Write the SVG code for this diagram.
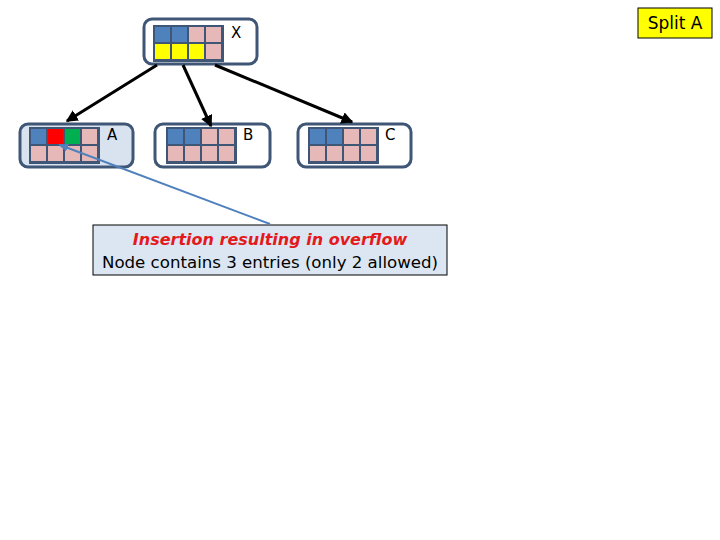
<svg xmlns="http://www.w3.org/2000/svg" width="720" height="540" viewBox="0 0 720 540">
<defs>
<marker id="ah" markerWidth="4" markerHeight="4" refX="3.5" refY="2" orient="auto" markerUnits="strokeWidth"><path d="M0,0 L4,2 L0,4 Z" fill="#000"/></marker>
<marker id="ah2" markerWidth="5" markerHeight="5" refX="4" refY="2.5" orient="auto" markerUnits="strokeWidth"><path d="M0,0.5 L5,2.5 L0,4.5 Z" fill="#4F81BD"/></marker>
</defs>
<style>
.node{fill:#fff;stroke:#3F5677;stroke-width:3}
.grid{fill:#3F5677}
.b{fill:#4F81BD}.p{fill:#E6B9B8}.y{fill:#FFFF00}.r{fill:#FF0000}.g{fill:#00B050}
.lbl{font-family:"DejaVu Sans",sans-serif;font-size:15px;fill:#000}
.edge{stroke:#000;stroke-width:3;fill:none;marker-end:url(#ah)}
</style>
<rect width="720" height="540" fill="#fff"/>
<g id="nodeX">
<rect class="node" x="144" y="19" width="113" height="45" rx="8"/>
<rect class="grid" x="153" y="25" width="71" height="37"/>
<rect class="b" x="155" y="27" width="15" height="15"/><rect class="b" x="172" y="27" width="15" height="15"/><rect class="p" x="189" y="27" width="15" height="15"/><rect class="p" x="206" y="27" width="15" height="15"/>
<rect class="y" x="155" y="44" width="15" height="15"/><rect class="y" x="172" y="44" width="15" height="15"/><rect class="y" x="189" y="44" width="15" height="15"/><rect class="p" x="206" y="44" width="15" height="15"/>
<text class="lbl" x="231" y="38">X</text>
</g>
<g id="nodeA">
<rect class="node" x="20" y="124" width="113" height="43" rx="8" style="fill:#D9E3F0"/>
<rect class="grid" x="29" y="127" width="71" height="37"/>
<rect class="b" x="31" y="129" width="15" height="15"/><rect class="r" x="48" y="129" width="15" height="15"/><rect class="g" x="65" y="129" width="15" height="15"/><rect class="p" x="82" y="129" width="15" height="15"/>
<rect class="p" x="31" y="146" width="15" height="15"/><rect class="p" x="48" y="146" width="15" height="15"/><rect class="p" x="65" y="146" width="15" height="15"/><rect class="p" x="82" y="146" width="15" height="15"/>
<text class="lbl" x="107" y="140">A</text>
</g>
<g id="nodeB">
<rect class="node" x="155" y="124" width="115" height="43" rx="8"/>
<rect class="grid" x="166" y="127" width="71" height="37"/>
<rect class="b" x="168" y="129" width="15" height="15"/><rect class="b" x="185" y="129" width="15" height="15"/><rect class="p" x="202" y="129" width="15" height="15"/><rect class="p" x="219" y="129" width="15" height="15"/>
<rect class="p" x="168" y="146" width="15" height="15"/><rect class="p" x="185" y="146" width="15" height="15"/><rect class="p" x="202" y="146" width="15" height="15"/><rect class="p" x="219" y="146" width="15" height="15"/>
<text class="lbl" x="243" y="140">B</text>
</g>
<g id="nodeC">
<rect class="node" x="298" y="124" width="113" height="43" rx="8"/>
<rect class="grid" x="308" y="127" width="71" height="37"/>
<rect class="b" x="310" y="129" width="15" height="15"/><rect class="b" x="327" y="129" width="15" height="15"/><rect class="p" x="344" y="129" width="15" height="15"/><rect class="p" x="361" y="129" width="15" height="15"/>
<rect class="p" x="310" y="146" width="15" height="15"/><rect class="p" x="327" y="146" width="15" height="15"/><rect class="p" x="344" y="146" width="15" height="15"/><rect class="p" x="361" y="146" width="15" height="15"/>
<text class="lbl" x="385" y="140">C</text>
</g>
<g id="callout">
<rect x="93" y="225" width="354" height="50" fill="#DCE6F2" stroke="#000" stroke-width="1"/>
<text x="270" y="245" text-anchor="middle" font-family="DejaVu Sans, sans-serif" font-size="16" font-style="italic" font-weight="bold" fill="#E31A1C">Insertion resulting in overflow</text>
<text x="270" y="268" text-anchor="middle" font-family="DejaVu Sans, sans-serif" font-size="16" fill="#000" textLength="336" lengthAdjust="spacingAndGlyphs">Node contains 3 entries (only 2 allowed)</text>
</g>
<g id="splitA">
<rect x="638" y="8" width="74" height="30" fill="#FFFF00" stroke="#000" stroke-width="1"/>
<text x="675" y="29" text-anchor="middle" font-family="DejaVu Sans, sans-serif" font-size="17" fill="#000">Split A</text>
</g>
<g id="connectors">
<line class="edge" x1="157" y1="65" x2="67" y2="121"/>
<line class="edge" x1="183" y1="65" x2="211" y2="126"/>
<line class="edge" x1="215" y1="65" x2="352" y2="122"/>
<line x1="270" y1="224" x2="60" y2="145" stroke="#4F81BD" stroke-width="2" marker-end="url(#ah2)"/>
</g>
</svg>
